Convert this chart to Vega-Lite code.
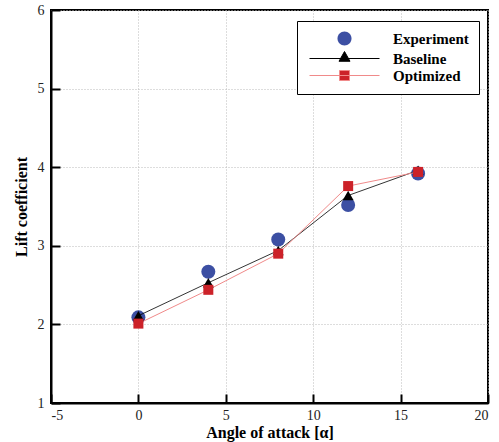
{
  "$schema": "https://vega.github.io/schema/vega-lite/v6.json",
  "width": 437,
  "height": 393,
  "autosize": {"type": "none"},
  "padding": {"left": 51, "top": 10, "right": 11, "bottom": 39},
  "background": "white",
  "config": {
    "view": {"stroke": "black", "strokeWidth": 2},
    "axis": {
      "labelFont": "Liberation Serif", "labelFontSize": 14, "labelColor": "#222222",
      "titleFont": "Liberation Serif", "titleFontSize": 16, "titleFontWeight": "bold", "titleColor": "black",
      "domainColor": "black", "domainWidth": 2,
      "tickColor": "black", "tickWidth": 2, "tickSize": -9,
      "gridColor": "#bbbbbb", "gridDash": [1, 2], "gridWidth": 1,
      "labelExpr": "'' + datum.value"
    }
  },
  "data": {
    "values": [
      {"series": "Experiment", "aoa": 0, "cl": 2.09},
      {"series": "Experiment", "aoa": 4, "cl": 2.67},
      {"series": "Experiment", "aoa": 8, "cl": 3.08},
      {"series": "Experiment", "aoa": 12, "cl": 3.52},
      {"series": "Experiment", "aoa": 16, "cl": 3.92},
      {"series": "Baseline", "aoa": 0, "cl": 2.11},
      {"series": "Baseline", "aoa": 4, "cl": 2.53},
      {"series": "Baseline", "aoa": 8, "cl": 2.94},
      {"series": "Baseline", "aoa": 12, "cl": 3.64},
      {"series": "Baseline", "aoa": 16, "cl": 3.96},
      {"series": "Optimized", "aoa": 0, "cl": 2.01},
      {"series": "Optimized", "aoa": 4, "cl": 2.44},
      {"series": "Optimized", "aoa": 8, "cl": 2.90},
      {"series": "Optimized", "aoa": 12, "cl": 3.76},
      {"series": "Optimized", "aoa": 16, "cl": 3.94}
    ]
  },
  "encoding": {
    "x": {
      "field": "aoa", "type": "quantitative",
      "scale": {"domain": [-5, 20], "nice": false, "zero": false},
      "axis": {"title": "Angle of attack [α]", "values": [-5, 0, 5, 10, 15, 20], "labelPadding": 14, "titlePadding": 2}
    },
    "y": {
      "field": "cl", "type": "quantitative",
      "scale": {"domain": [1, 6], "nice": false, "zero": false},
      "axis": {"title": "Lift coefficient", "values": [1, 2, 3, 4, 5, 6], "labelPadding": 16, "titlePadding": 8}
    }
  },
  "layer": [
    {
      "transform": [{"filter": "datum.series === 'Experiment'"}],
      "mark": {"type": "point", "shape": "circle", "filled": true, "opacity": 1, "size": 196},
      "encoding": {
        "color": {
          "field": "series", "type": "nominal",
          "scale": {"domain": ["Experiment", "Baseline", "Optimized"], "range": ["#3c4fa3", "#000000", "#cc2229"]},
          "legend": {
            "orient": "none", "legendX": 246, "legendY": 11, "title": null,
            "strokeColor": "black", "fillColor": "white", "padding": 10,
            "labelFont": "Liberation Serif", "labelFontSize": 15, "labelFontWeight": "bold", "labelColor": "black",
            "symbolOpacity": 1, "symbolSize": 100, "symbolOffset": 30, "labelOffset": 41, "rowPadding": 1,
            "encode": {
              "symbols": {
                "update": {
                  "shape": {"signal": "datum.value === 'Experiment' ? 'M-1.4,0A1.4,1.4,0,1,0,1.4,0A1.4,1.4,0,1,0,-1.4,0Z' : datum.value === 'Baseline' ? 'M-7,0H7M0,-1.4L1.1,0.55L-1.1,0.55Z' : 'M-7,0H7M-1,-1H1V1H-1Z'"},
                  "stroke": {"signal": "datum.value === 'Experiment' ? 'transparent' : datum.value === 'Baseline' ? 'black' : '#f08a8a'"},
                  "strokeWidth": {"value": 1}
                }
              }
            }
          }
        }
      }
    },
    {
      "transform": [{"filter": "datum.series === 'Baseline'"}],
      "mark": {"type": "line", "stroke": "black", "strokeWidth": 0.8},
      "encoding": {}
    },
    {
      "transform": [{"filter": "datum.series === 'Optimized'"}],
      "mark": {"type": "line", "stroke": "#f08a8a", "strokeWidth": 1},
      "encoding": {}
    },
    {
      "transform": [{"filter": "datum.series !== 'Experiment'"}],
      "mark": {"type": "point", "filled": true, "opacity": 1},
      "encoding": {
        "color": {"field": "series", "type": "nominal"},
        "shape": {"field": "series", "type": "nominal", "scale": {"domain": ["Baseline", "Optimized"], "range": ["triangle-up", "square"]}, "legend": null},
        "size": {"field": "series", "type": "nominal", "scale": {"domain": ["Baseline", "Optimized"], "range": [120, 100]}, "legend": null}
      }
    }
  ]
}
